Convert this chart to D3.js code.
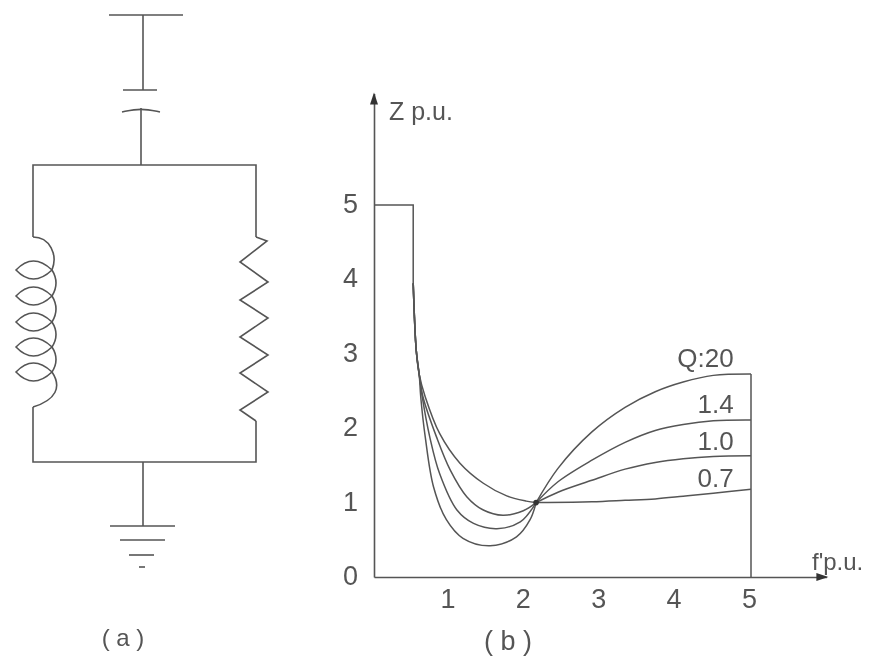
<!DOCTYPE html>
<html>
<head>
    <meta charset="UTF-8">
    <title>Impedance of damped filter</title>
    <script src="https://cdnjs.cloudflare.com/ajax/libs/d3/7.8.5/d3.min.js"></script>
    <style>
        body { margin: 0; background: #fff; }
        svg { display: block; filter: blur(0.5px); }
        text { font-family: "Liberation Sans Narrow", "Liberation Sans", sans-serif; fill: #555; }
        .wire, .curve { fill: none; stroke: #555; stroke-width: 1.6px; }
        .curve { stroke-width: 1.5px; }
    </style>
</head>
<body>
    <div id="chart"></div>

    <script>
        const xTicks = [1, 2, 3, 4, 5];
        const yTicks = [0, 1, 2, 3, 4, 5];

        // [f, Z], left of the common point then right of it
        const stepEdge = [[0, 5], [0.52, 5], [0.52, 3.95]];
        const sharedStart = [[0.52, 3.95], [0.56, 3.05], [0.6, 2.72]];
        const commonPoint = [2.15, 1.0];

        const q20Left = [[0.62, 2.42], [0.68, 1.88], [0.79, 1.21], [0.96, 0.77], [1.18, 0.52], [1.54, 0.42], [1.89, 0.54], [2.07, 0.77]];
        const q14Left = [[0.64, 2.42], [0.74, 1.88], [0.87, 1.39], [1.1, 0.9], [1.32, 0.72], [1.63, 0.65], [1.94, 0.74]];
        const q10Left = [[0.65, 2.42], [0.83, 1.88], [1.01, 1.44], [1.23, 1.08], [1.45, 0.9], [1.71, 0.83], [1.98, 0.89]];
        const q07Left = [[0.68, 2.42], [0.87, 1.93], [1.14, 1.53], [1.45, 1.26], [1.76, 1.09], [2.02, 1.02]];

        const q20Right = [[2.44, 1.46], [2.89, 1.95], [3.33, 2.28], [3.73, 2.49], [4.1, 2.62], [4.5, 2.71], [5, 2.73]];
        const q14Right = [[2.44, 1.28], [2.89, 1.57], [3.33, 1.81], [3.73, 1.97], [4.1, 2.05], [4.5, 2.1], [5, 2.11]];
        const q10Right = [[2.44, 1.14], [2.89, 1.3], [3.33, 1.45], [3.73, 1.54], [4.1, 1.59], [4.5, 1.62], [5, 1.63]];
        const q07Right = [[2.3, 1.0], [2.89, 1.01], [3.33, 1.03], [3.73, 1.05], [4.1, 1.085], [4.5, 1.125], [5, 1.18]];

        const allCurves = [
            [q20Left, q20Right],
            [q14Left, q14Right],
            [q10Left, q10Right],
            [q07Left, q07Right]
        ];

        const qLabels = ["Q:20", "1.4", "1.0", "0.7"];
        const qLabelZ = [2.82, 2.2, 1.71, 1.21];

        // circuit (a), in picture units
        const circuitWires = [
            [[109, 15], [183, 15]],
            [[143, 15], [143, 90]],
            [[123, 90], [157, 90]],
            [[141, 108], [141, 165]],
            [[33, 237], [33, 165], [256, 165], [256, 237]],
            [[33, 407], [33, 462], [256, 462], [256, 421]],
            [[143, 462], [143, 526]],
            [[110, 526], [175, 526]],
            [[120, 540], [165, 540]],
            [[129, 555], [154, 555]],
            [[139, 567], [145, 567]]
        ];
        const resistorZigzag = [[256, 237], [267, 241], [240, 262], [268, 282], [240, 300], [268, 318], [240, 337], [268, 355], [240, 373], [268, 392], [240, 410], [256, 421]];
        const capacitorPlate = [[122, 112], [141, 108], [160, 112]];
        const coilTurns = [270, 296, 322, 347, 372];

        const width = 873;
        const height = 656;

        const svg = d3.select("#chart")
            .append("svg")
            .attr("width", width)
            .attr("height", height);

        const x = d3.scaleLinear().domain([0, 6]).range([374, 826.4]);
        const y = d3.scaleLinear().domain([0, 6.5]).range([577, 93.4]);

        const line = d3.line().x(d => x(d[0])).y(d => y(d[1]));
        const smooth = d3.line().x(d => x(d[0])).y(d => y(d[1])).curve(d3.curveCatmullRom.alpha(0.5));
        const raw = d3.line();

        // axes
        const xAxis = svg.append("g")
            .attr("transform", `translate(0,${y(0)})`)
            .call(d3.axisBottom(x).tickValues(xTicks).tickSize(0).tickPadding(12).tickFormat(d3.format("d")));
        const yAxis = svg.append("g")
            .attr("transform", `translate(${x(0)},0)`)
            .call(d3.axisLeft(y).tickValues(yTicks).tickSize(0).tickPadding(16).tickFormat(d3.format("d")));

        [xAxis, yAxis].forEach(a => {
            a.select(".domain").attr("stroke", "#555").attr("stroke-width", 1.6);
            a.selectAll("text").attr("font-size", 27).attr("font-family", null);
        });
        xAxis.selectAll("text").attr("dx", -2);
        yAxis.selectAll("text").attr("dy", "0.28em");

        svg.append("path").attr("fill", "#333")
            .attr("d", `M${x(0)},${y(6.5) - 1}l-4,12h8z`);
        svg.append("path").attr("fill", "#333")
            .attr("d", `M${x(6) + 2},${y(0)}l-12,-4v8z`);

        // curves
        svg.append("path").attr("class", "curve").attr("d", line(stepEdge));
        svg.append("path").attr("class", "curve").attr("d", line([[5, 0], [5, q20Right[q20Right.length - 1][1]]]));

        svg.selectAll("path.left")
            .data(allCurves)
            .join("path")
            .attr("class", "curve left")
            .attr("d", d => smooth([...sharedStart, ...d[0], commonPoint]));

        svg.selectAll("path.right")
            .data(allCurves)
            .join("path")
            .attr("class", "curve right")
            .attr("d", d => smooth([commonPoint, ...d[1]]));

        svg.append("circle")
            .attr("cx", x(commonPoint[0]))
            .attr("cy", y(commonPoint[1]))
            .attr("r", 2.8)
            .attr("fill", "#333");

        svg.selectAll("text.qlabel")
            .data(qLabels)
            .join("text")
            .attr("class", "qlabel")
            .attr("x", x(4.77))
            .attr("y", (d, i) => y(qLabelZ[i]))
            .attr("text-anchor", "end")
            .attr("font-size", 26)
            .text(d => d);

        svg.append("text").attr("x", 389).attr("y", 120).attr("font-size", 25).text("Z p.u.");
        svg.append("text").attr("x", 812).attr("y", 570).attr("font-size", 24).text("f'p.u.");
        svg.append("text").attr("x", 508).attr("y", 650).attr("text-anchor", "middle").attr("font-size", 27).text("( b )");
        svg.append("text").attr("x", 123).attr("y", 646).attr("text-anchor", "middle").attr("font-size", 24).text("( a )");

        // circuit (a)
        const circuit = svg.append("g");

        circuit.selectAll("path.seg")
            .data(circuitWires)
            .join("path")
            .attr("class", "wire seg")
            .attr("d", d => raw(d));

        circuit.append("path").attr("class", "wire").attr("d", raw(resistorZigzag));
        circuit.append("path").attr("class", "wire")
            .attr("d", d3.line().curve(d3.curveBasis)(capacitorPlate));

        function coilPath(turns) {
            const p = d3.path();
            const last = turns[turns.length - 1];
            p.moveTo(33, 237);
            p.bezierCurveTo(50, 237, 58, 255, 52, turns[0]);
            turns.forEach((t, i) => {
                p.quadraticCurveTo(33, t - 18, 16, t);
                p.quadraticCurveTo(33, t + 18, 52, t);
                if (i < turns.length - 1) p.quadraticCurveTo(60, (t + turns[i + 1]) / 2, 52, turns[i + 1]);
            });
            p.bezierCurveTo(62, last + 15, 56, 400, 33, 407);
            return p.toString();
        }

        circuit.append("path").attr("class", "wire").attr("d", coilPath(coilTurns));
    </script>
</body>
</html>
